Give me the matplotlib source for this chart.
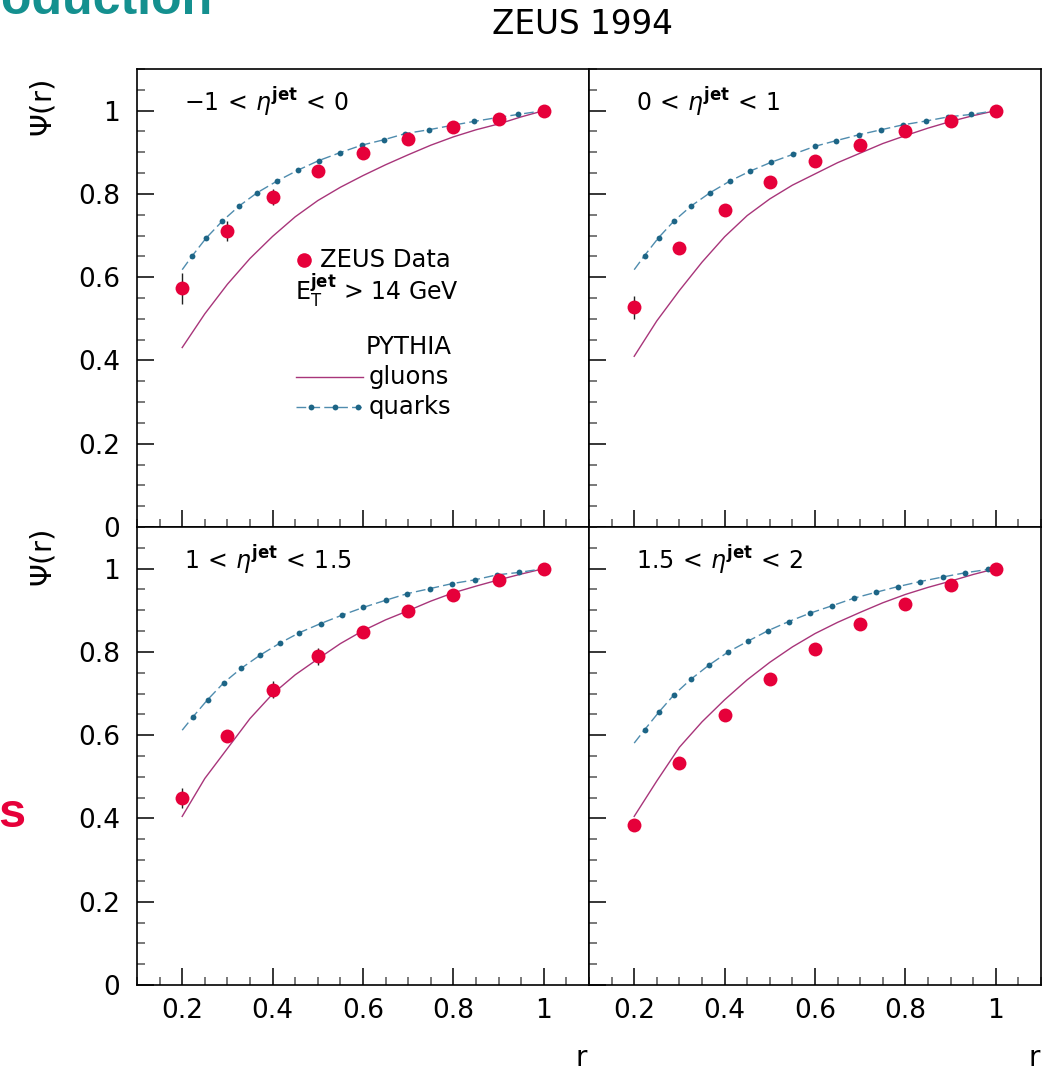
import numpy as np
import matplotlib
matplotlib.use("Agg")
import matplotlib.pyplot as plt
from matplotlib.ticker import FixedLocator, MultipleLocator

# ---- data ----
r_data = [0.2, 0.3, 0.4, 0.5, 0.6, 0.7, 0.8, 0.9, 1.0]
r_gluon = [0.2, 0.25, 0.3, 0.35, 0.4, 0.45, 0.5, 0.55, 0.6, 0.65, 0.7,
           0.75, 0.8, 0.85, 0.9, 0.95, 1.0]

eta_labels = [r'$-1\,<\,\eta^{\mathbf{jet}}\,<\,0$',
              r'$0\,<\,\eta^{\mathbf{jet}}\,<\,1$',
              r'$1\,<\,\eta^{\mathbf{jet}}\,<\,1.5$',
              r'$1.5\,<\,\eta^{\mathbf{jet}}\,<\,2$']

psi_data = [
    [0.573, 0.710, 0.792, 0.854, 0.898, 0.933, 0.960, 0.979, 1.0],
    [0.528, 0.671, 0.762, 0.828, 0.879, 0.917, 0.950, 0.976, 1.0],
    [0.449, 0.598, 0.709, 0.789, 0.847, 0.898, 0.937, 0.972, 1.0],
    [0.384, 0.534, 0.648, 0.735, 0.807, 0.867, 0.915, 0.961, 1.0],
]
psi_err = [
    [0.037, 0.024, 0.019, 0.012, 0.008, 0.006, 0.005, 0.003, 0.0],
    [0.028, 0.010, 0.008, 0.006, 0.005, 0.004, 0.003, 0.002, 0.0],
    [0.024, 0.015, 0.020, 0.020, 0.010, 0.008, 0.006, 0.004, 0.0],
    [0.012, 0.010, 0.008, 0.006, 0.005, 0.004, 0.003, 0.002, 0.0],
]

gluons = [
    [0.431, 0.512, 0.583, 0.645, 0.698, 0.745, 0.784, 0.816, 0.844, 0.870,
     0.894, 0.917, 0.937, 0.954, 0.968, 0.985, 1.0],
    [0.410, 0.495, 0.568, 0.636, 0.697, 0.748, 0.788, 0.821, 0.848, 0.875,
     0.898, 0.921, 0.940, 0.958, 0.974, 0.988, 1.0],
    [0.405, 0.496, 0.568, 0.640, 0.699, 0.745, 0.783, 0.820, 0.851, 0.877,
     0.899, 0.922, 0.942, 0.958, 0.973, 0.987, 1.0],
    [0.405, 0.490, 0.571, 0.632, 0.685, 0.733, 0.775, 0.812, 0.844, 0.871,
     0.895, 0.918, 0.938, 0.955, 0.970, 0.986, 1.0],
]

quark_r = [
    [0.2, 0.222, 0.253, 0.289, 0.326, 0.366, 0.410, 0.456, 0.502, 0.549, 0.597,
     0.646, 0.694, 0.745, 0.794, 0.845, 0.895, 0.944, 1.0],
    [0.2, 0.223, 0.254, 0.288, 0.326, 0.368, 0.412, 0.457, 0.503, 0.551, 0.599,
     0.647, 0.697, 0.746, 0.795, 0.845, 0.895, 0.946, 1.0],
    [0.2, 0.223, 0.256, 0.292, 0.331, 0.372, 0.416, 0.459, 0.506, 0.553, 0.601,
     0.650, 0.698, 0.748, 0.797, 0.847, 0.896, 0.946, 1.0],
    [0.2, 0.223, 0.255, 0.288, 0.325, 0.365, 0.408, 0.452, 0.496, 0.542, 0.589,
     0.638, 0.686, 0.734, 0.784, 0.833, 0.883, 0.932, 0.982, 1.0],
]
quarks = [
    [0.618, 0.651, 0.694, 0.735, 0.771, 0.803, 0.831, 0.857, 0.880, 0.899, 0.917,
     0.930, 0.945, 0.954, 0.964, 0.974, 0.983, 0.991, 1.0],
    [0.618, 0.652, 0.695, 0.735, 0.771, 0.803, 0.831, 0.855, 0.876, 0.895, 0.914,
     0.928, 0.942, 0.954, 0.966, 0.975, 0.985, 0.991, 1.0],
    [0.612, 0.643, 0.685, 0.726, 0.761, 0.792, 0.821, 0.846, 0.868, 0.888, 0.907,
     0.924, 0.940, 0.952, 0.964, 0.973, 0.985, 0.991, 1.0],
    [0.581, 0.613, 0.656, 0.697, 0.734, 0.768, 0.800, 0.826, 0.851, 0.873, 0.893,
     0.911, 0.929, 0.943, 0.957, 0.969, 0.980, 0.990, 0.998, 1.0],
]

red = '#e6003a'
purple = '#a8357a'
qline = '#4f8cae'
qdot = '#1d6586'

W, H = 1048, 1070
fig = plt.figure(figsize=(W / 100, H / 100), dpi=100)
plt.rcParams['mathtext.fontset'] = 'dejavusans'

ax_w, ax_h = 452 / W, 458 / H
lefts = [137 / W, 589 / W]
bottoms = [(H - 527) / H, (H - 985) / H]

axes = []
for i in range(4):
    row, col = divmod(i, 2)
    ax = fig.add_axes([lefts[col], bottoms[row], ax_w, ax_h])
    axes.append(ax)

    ax.plot(r_gluon, gluons[i], color=purple, lw=1.0, zorder=2)
    ax.plot(quark_r[i], quarks[i], color=qline, lw=1.0, dashes=(7, 3), zorder=2)
    ax.plot(quark_r[i][1:-1], quarks[i][1:-1], 'o', color=qdot, ms=4.2,
            mec='none', zorder=3)
    ax.errorbar(r_data, psi_data[i], yerr=psi_err[i], fmt='o', color=red,
                ms=10, mec='none', ecolor='#222222', elinewidth=1.0,
                capsize=0, zorder=4)

    ax.set_xlim(0.1, 1.1)
    ax.set_ylim(0, 1.1)
    ax.xaxis.set_major_locator(FixedLocator([0.2, 0.4, 0.6, 0.8, 1.0]))
    ax.xaxis.set_minor_locator(MultipleLocator(0.05))
    ax.yaxis.set_major_locator(FixedLocator([0, 0.2, 0.4, 0.6, 0.8, 1.0]))
    ax.yaxis.set_minor_locator(MultipleLocator(0.05))
    ax.tick_params(which='major', direction='in', length=12, width=1.1,
                   color='black', labelsize=19, top=False, right=False)
    ax.tick_params(which='minor', direction='in', length=5.5, width=1.1,
                   color='#555555', top=False, right=False)
    ax.tick_params(axis='y', pad=12)
    ax.tick_params(axis='x', pad=9)
    ax.set_xticklabels(['0.2', '0.4', '0.6', '0.8', '1'])
    ax.set_yticklabels(['0', '0.2', '0.4', '0.6', '0.8', '1'])
    if row == 0:
        ax.tick_params(axis='x', labelbottom=False)
    if col == 1:
        ax.tick_params(axis='y', labelleft=False)
    for s in ax.spines.values():
        s.set_linewidth(1.2)

    ax.text(0.104, 0.927, eta_labels[i], transform=ax.transAxes,
            fontsize=17, ha='left', va='center')

# legend in first panel
ax = axes[0]
t = ax.transAxes
ax.plot([0.370], [0.583], 'o', color=red, ms=10.5, mec='none', transform=t,
        clip_on=False)
ax.text(0.405, 0.583, 'ZEUS Data', transform=t, fontsize=17.5, va='center')
ax.text(0.350, 0.517, r'$\mathrm{E}_{\mathrm{T}}^{\mathbf{jet}}$ > 14 GeV',
        transform=t, fontsize=17, va='center')
ax.text(0.697, 0.394, 'PYTHIA', transform=t, fontsize=17.5, va='center',
        ha='right')
ax.plot([0.352, 0.499], [0.328, 0.328], color=purple, lw=1.0, transform=t)
ax.text(0.512, 0.328, 'gluons', transform=t, fontsize=17.5, va='center')
ax.plot([0.352, 0.499], [0.263, 0.263], color=qline, lw=1.0, dashes=(7, 3),
        transform=t)
ax.plot([0.386, 0.438, 0.489], [0.263, 0.263, 0.263], 'o', color=qdot,
        ms=4.2, mec='none', transform=t)
ax.text(0.512, 0.263, 'quarks', transform=t, fontsize=17.5, va='center')

# figure texts
fig.text(583 / W, 1 - 25 / H, 'ZEUS 1994', fontsize=23.5, ha='center',
         va='center')
fig.text(43 / W, 1 - 108 / H, r'$\Psi$(r)', fontsize=21, rotation=90,
         ha='center', va='center')
fig.text(43 / W, 1 - 558 / H, r'$\Psi$(r)', fontsize=21, rotation=90,
         ha='center', va='center')
fig.text(587 / W, 1 - 1058 / H, 'r', fontsize=20, ha='right', va='center')
fig.text(1040 / W, 1 - 1058 / H, 'r', fontsize=20, ha='right', va='center')

# slide fragments cropped at the edges
fig.text(213 / W, 1 - 14 / H, 'Production', fontsize=36, fontweight='bold',
         family='Liberation Sans', color='#14908f', ha='right',
         va='baseline')
fig.text(25 / W, 1 - 827 / H, 's', fontsize=35, fontweight='bold',
         family='Liberation Sans', color=red, ha='right', va='baseline')

fig.savefig('out.png', dpi=100)
